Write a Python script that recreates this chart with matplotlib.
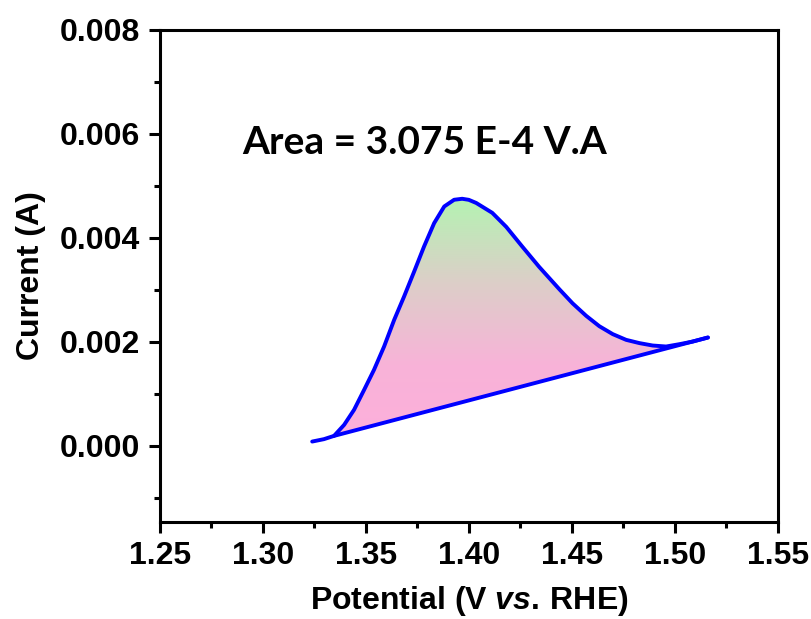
import numpy as np
import matplotlib.pyplot as plt
from matplotlib.colors import LinearSegmentedColormap

plt.rcParams['font.family'] = ['Liberation Sans', 'DejaVu Sans']
plt.rcParams['mathtext.fontset'] = 'custom'
plt.rcParams['mathtext.it'] = 'Liberation Sans:italic:bold'
plt.rcParams['mathtext.rm'] = 'Liberation Sans:bold'
plt.rcParams['mathtext.bf'] = 'Liberation Sans:bold'

# LSV oxidation peak
potential = [1.3240, 1.3297, 1.3346, 1.3395, 1.3443, 1.3492, 1.3540, 1.3589,
             1.3638, 1.3686, 1.3735, 1.3783, 1.3832, 1.3881, 1.3929, 1.3968,
             1.4000, 1.4036, 1.4114, 1.4182, 1.4260, 1.4342, 1.4440, 1.4504,
             1.4570, 1.4634, 1.4699, 1.4764, 1.4829, 1.4893, 1.4958, 1.5023,
             1.5088, 1.5161]
current = [0.000083, 0.000129, 0.000192, 0.000404, 0.000692, 0.001077, 0.001462, 0.001910,
           0.002423, 0.002871, 0.003352, 0.003833, 0.004282, 0.004602, 0.004731, 0.004750,
           0.004730, 0.004670, 0.004480, 0.004210, 0.003830, 0.003440, 0.003010, 0.002740,
           0.002500, 0.002300, 0.002148, 0.002038, 0.001975, 0.001929, 0.001910, 0.001955,
           0.002006, 0.002083]

# baseline used for the integration
base_x = [1.3346, 1.5161]
base_y = [0.000192, 0.002083]

area_text = 'Area = 3.075 E-4 V.A'

x = np.array(potential)
y = np.array(current)
bx = np.array(base_x)
by = np.array(base_y)

fig = plt.figure(figsize=(8.11, 6.19), dpi=100)
ax = fig.add_axes([0.197, 0.157, 0.762, 0.795])

# region between curve and baseline
mask = (x >= bx[0]) & (x <= bx[-1])
xs = x[mask]
ys = y[mask]
base_at = np.interp(xs, bx, by)
poly = ax.fill_between(xs, ys, base_at, color='none', lw=0)

# vertical gradient pink -> green, clipped to the region
cmap = LinearSegmentedColormap.from_list(
    'pg', [(0.0, '#fdafdb'), (0.3, '#f8b3d8'), (0.65, '#dccfc8'), (1.0, '#b4f3b2')])
grad = np.linspace(0, 1, 256).reshape(-1, 1)
img = ax.imshow(grad, cmap=cmap, origin='lower', aspect='auto',
                extent=[xs.min(), xs.max(), by.min(), y.max()], zorder=1)
path = poly.get_paths()[0]
img.set_clip_path(path, transform=ax.transData)

ax.plot(x, y, color='#0000ff', lw=2.8, zorder=3, solid_capstyle='round',
        solid_joinstyle='round')
ax.plot(bx, by, color='#0000ff', lw=2.8, zorder=3, solid_capstyle='round')

ax.text(1.3788, 0.00583, area_text, fontsize=28, fontweight='bold',
        family=['Lato', 'DejaVu Sans'], ha='center', va='center')

ax.set_xlim(1.25, 1.55)
ax.set_ylim(-0.00146, 0.008)
ax.set_xticks(np.arange(1.25, 1.551, 0.05))
ax.set_xticks(np.arange(1.275, 1.55, 0.05), minor=True)
ax.set_yticks(np.arange(0, 0.0081, 0.002))
ax.set_yticks(np.arange(-0.001, 0.008, 0.002), minor=True)
ax.xaxis.set_major_formatter(plt.FormatStrFormatter('%.2f'))
ax.yaxis.set_major_formatter(plt.FormatStrFormatter('%.3f'))

ax.tick_params(which='major', direction='out', length=8, width=2.2,
               labelsize=23, pad=6)
ax.tick_params(which='minor', direction='out', length=4.5, width=2.2)
for lab in ax.get_xticklabels() + ax.get_yticklabels():
    lab.set_fontweight('bold')
for sp in ax.spines.values():
    sp.set_linewidth(2.2)

ax.set_ylabel('Current (A)', fontsize=23, fontweight='bold', labelpad=10)
ax.set_xlabel(r'Potential (V $\mathit{vs.}\,$RHE)', fontsize=23, fontweight='bold', labelpad=9)

fig.savefig('out.png', dpi=100)
